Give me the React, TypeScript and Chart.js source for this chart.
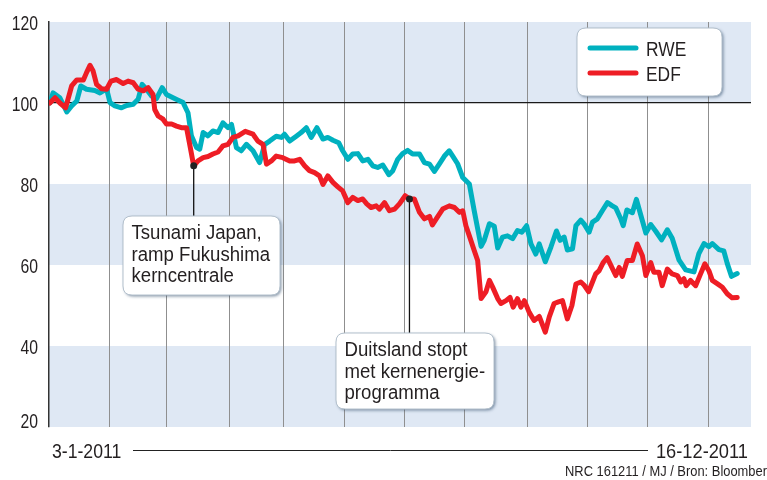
import { useEffect, useRef } from "react";
import { Chart, registerables } from "chart.js";

Chart.register(...registerables);

const FONT = "'Liberation Sans', Arial, Helvetica, sans-serif";
const TEXT = "#231f20";
const RWE_COLOR = "#00b1bf";
const EDF_COLOR = "#ee1d25";
const BAND = "#dfe8f4";

const seriesNames = ["RWE", "EDF"];

// x = trading day since 3-1-2011
const rweDay = [0.3, 1.4, 3.8, 6.2, 7.9, 9.7, 11.1, 13.1, 16, 17.8, 20.1, 21.3, 23, 25.3, 27.1, 29.4, 31.1, 32.5, 34, 35.8, 37.5, 39.5, 41, 43.3, 45.1, 46.8, 48.5, 49.7, 51.5, 52.6, 53.8, 55.5, 57.2, 59, 60.7, 62.5, 63.7, 65.4, 67.1, 68.9, 71.2, 73.5, 75.3, 77, 79.3, 81.1, 82.2, 84, 86.3, 88, 89.8, 91.5, 93.5, 95.6, 97.3, 99.1, 101.1, 102.5, 104.3, 106, 107.8, 109.5, 111.3, 113, 114.7, 116.5, 118.6, 120, 121.7, 123.4, 125.2, 126.9, 129.3, 131, 132.8, 134.5, 136.2, 138, 139.7, 140.9, 142.6, 144.4, 146.7, 148.4, 150.8, 151.9, 153.7, 155.4, 156.6, 158.3, 160, 161.8, 163.5, 165, 166.7, 168.2, 169.9, 171.1, 173.2, 175.2, 177.1, 178.4, 179.8, 180.9, 182.7, 183.9, 185.6, 186.8, 188.5, 189.7, 191.4, 193.1, 194.9, 196.6, 197.8, 199.5, 200.4, 201.7, 203.6, 205, 206.5, 208.3, 210, 211.7, 213.8, 215.8, 217.5, 219.9, 222.2, 225.1, 226.8, 228.6, 230.3, 231.5, 233.8, 235.5, 236.7, 238.2, 240.2];
const rweVal = [100, 102.5, 101.3, 97.8, 99.3, 100.5, 104.2, 103.4, 103.1, 102.5, 103.5, 100.1, 99.3, 98.8, 99.4, 99.7, 100.9, 104.6, 103.4, 101.7, 101.1, 103.8, 102.1, 101.3, 100.7, 100.1, 97.6, 91.9, 89, 88.6, 92.7, 91.9, 93.1, 92.7, 95.1, 93.9, 94.7, 89, 88.2, 89.8, 88.2, 85.3, 89.8, 90.6, 91.8, 91.5, 92.3, 90.6, 91.8, 92.7, 93.9, 91.5, 93.9, 91.1, 91.5, 90.8, 90.2, 88.2, 86.1, 87.4, 87.5, 85.7, 86.1, 84.5, 84.1, 84.7, 82.3, 83.3, 86.1, 87.5, 88.3, 87.4, 87.4, 85.3, 84.9, 83.1, 84.9, 86.9, 88.2, 86.9, 85, 81.6, 80, 73.4, 64.6, 66.1, 70.2, 69.6, 64.2, 66.9, 67.2, 66.5, 68.5, 68.1, 69.7, 65.2, 62.7, 65.2, 60.8, 64.5, 68.4, 66.1, 66.9, 63.7, 64, 69.7, 71.1, 70.1, 68.1, 70.6, 71.4, 73.4, 75.4, 74.6, 74.1, 71.5, 69.7, 73.6, 72.9, 76.2, 72.4, 67.9, 70, 68.4, 66.2, 68.7, 66.6, 61.2, 58.8, 58.3, 62.8, 65.3, 64.5, 65.3, 63.8, 63.5, 60.4, 57.2, 57.9];

const edfDay = [0.3, 2.1, 3.8, 5.8, 7.9, 9.7, 12, 13.1, 14.3, 15.4, 16.6, 18.4, 20.1, 21.6, 23.6, 25.9, 27.6, 29.4, 31.1, 32.9, 34.6, 36.3, 36.9, 38.1, 39.8, 41, 42.8, 44.5, 46.2, 48, 49.1, 50.5, 52, 53.8, 55.5, 57.2, 59, 60.7, 62.5, 64.2, 66, 68.5, 71.2, 72.9, 74.7, 75.9, 77.6, 79.3, 81.6, 84, 85.7, 87.5, 89.2, 90.9, 92.7, 94.4, 95.6, 97.3, 99.1, 100.8, 102.5, 104.3, 106, 107.8, 109.5, 110.9, 112.4, 114.2, 115.3, 117.1, 118.8, 120.6, 122.3, 124.3, 125.8, 127.5, 129.3, 131, 132.8, 133.8, 135.6, 137.4, 139.7, 141.5, 143.2, 144.4, 145.5, 146.7, 148.4, 149.6, 150.8, 152.5, 153.7, 154.8, 156.6, 157.7, 159.5, 160.9, 162, 163.5, 164.7, 165.9, 167.6, 169.3, 171.1, 173.2, 174.6, 176.3, 177.8, 179.2, 180.9, 182.5, 183.9, 185.6, 186.8, 188.3, 189.4, 190.8, 192, 193.4, 194.8, 196.1, 197.8, 199, 200.1, 201.8, 203.6, 205.3, 207.1, 208.3, 210, 211.1, 212.9, 214, 215.8, 217.5, 219.3, 220.5, 221.6, 222.4, 223.9, 225.7, 227.4, 228.9, 230.3, 231.5, 233.2, 235, 236.7, 238.4, 240.2];
const edfVal = [100, 101.3, 100, 98.8, 104.2, 105.7, 105.7, 107.5, 109.3, 107.9, 104.6, 103.5, 103.4, 105.4, 105.8, 104.8, 105.4, 105, 103.4, 103, 103.8, 102.1, 98.4, 96.8, 96, 94.8, 94.8, 94.3, 93.9, 93.9, 89.8, 84.5, 85.7, 86.5, 86.8, 87.4, 87.9, 89.4, 89.8, 91.5, 91.9, 93, 92.3, 90.6, 89.8, 84.9, 85.7, 86.9, 86.5, 85.7, 85.7, 86.1, 84.5, 83.3, 82.8, 82, 79.9, 82, 80.4, 79.3, 78.3, 75.4, 76.7, 75.9, 76.3, 75.1, 74.2, 74.6, 73.8, 75.4, 73.4, 73.8, 75.1, 77.1, 76.3, 76.3, 73, 71.4, 72, 69.9, 71.9, 73.8, 74.6, 74.2, 73, 73.4, 69.7, 67.2, 63.6, 61.1, 51.7, 53.4, 56.2, 54.6, 51.7, 50.5, 51.2, 52, 49.6, 51.7, 49.6, 51.2, 48.3, 46.3, 47.3, 43.4, 47.2, 50.5, 50.9, 51.2, 46.7, 50, 55.3, 55.8, 55, 53.4, 55.3, 57.8, 58.6, 60.6, 61.8, 59.9, 57.4, 59.4, 57.2, 61.1, 61.1, 65.2, 62.3, 57.4, 60.6, 58.2, 58.2, 54.9, 59, 57.8, 57.4, 55.8, 56.6, 54.9, 56.2, 54.9, 57.8, 60.3, 58.6, 56.2, 55.4, 54.5, 52.9, 51.9, 52];

// first trading day of each month (Feb..Dec)
const monthStartDays = [21, 41, 63, 82, 103, 124, 145, 167, 188, 209, 230];
const yTicks = [20, 40, 60, 80, 100, 120];
const startLabel = "3-1-2011";
const endLabel = "16-12-2011";
const sourceText = "NRC 161211 / MJ / Bron: Bloomberg";

const eventDays = [50.5, 125.8];
const eventTexts = [
  ["Tsunami Japan,", "ramp Fukushima", "kerncentrale"],
  ["Duitsland stopt", "met kernenergie-", "programma"],
];
const eventBoxes = [
  { x: 123, y: 216, w: 157, h: 79 },
  { x: 336, y: 333, w: 158, h: 76 },
];

function roundRect(ctx: CanvasRenderingContext2D, x: number, y: number, w: number, h: number, r: number) {
  ctx.beginPath();
  ctx.moveTo(x + r, y);
  ctx.lineTo(x + w - r, y);
  ctx.quadraticCurveTo(x + w, y, x + w, y + r);
  ctx.lineTo(x + w, y + h - r);
  ctx.quadraticCurveTo(x + w, y + h, x + w - r, y + h);
  ctx.lineTo(x + r, y + h);
  ctx.quadraticCurveTo(x, y + h, x, y + h - r);
  ctx.lineTo(x, y + r);
  ctx.quadraticCurveTo(x, y, x + r, y);
  ctx.closePath();
}

function drawBox(ctx: CanvasRenderingContext2D, x: number, y: number, w: number, h: number) {
  ctx.save();
  ctx.shadowColor = "rgba(40,70,100,0.55)";
  ctx.shadowBlur = 3;
  ctx.shadowOffsetX = 1.5;
  ctx.shadowOffsetY = 1.5;
  roundRect(ctx, x, y, w, h, 9);
  ctx.fillStyle = "#ffffff";
  ctx.fill();
  ctx.restore();
  ctx.save();
  roundRect(ctx, x, y, w, h, 9);
  ctx.strokeStyle = "#b3c0cc";
  ctx.lineWidth = 1;
  ctx.stroke();
  ctx.restore();
}

// condensed text: regular font squeezed horizontally
function sText(
  ctx: CanvasRenderingContext2D,
  text: string,
  x: number,
  y: number,
  size: number,
  sx: number,
  align: CanvasTextAlign = "left"
) {
  ctx.save();
  ctx.font = `${size}px ${FONT}`;
  ctx.fillStyle = TEXT;
  ctx.textAlign = align;
  ctx.textBaseline = "alphabetic";
  ctx.translate(x, y);
  ctx.scale(sx, 1);
  ctx.fillText(text, 0, 0);
  ctx.restore();
}

const decorPlugin = {
  id: "decor",
  beforeDraw(chart: any) {
    const { ctx, chartArea, scales } = chart;
    const y = scales.y;
    ctx.save();
    ctx.fillStyle = BAND;
    const bands = [[100, 120], [60, 80], [20, 40]];
    for (const [a, b] of bands) {
      const t = y.getPixelForValue(b);
      const bt = y.getPixelForValue(a);
      ctx.fillRect(chartArea.left, t, chartArea.right - chartArea.left, bt - t);
    }
    ctx.restore();
  },
  afterDraw(chart: any) {
    const { ctx, scales, chartArea } = chart;
    const xs = scales.x;
    const ys = scales.y;
    ctx.save();

    // y tick labels
    yTicks.forEach((v) => {
      const py = ys.getPixelForValue(v);
      sText(ctx, String(v), chartArea.left - 11, Math.min(py + 8, 428), 21, 0.75, "right");
    });

    // events
    eventDays.forEach((d, k) => {
      const i = edfDay.indexOf(d);
      const px = xs.getPixelForValue(d);
      const py = ys.getPixelForValue(edfVal[i]);
      const box = eventBoxes[k];
      ctx.strokeStyle = "#111";
      ctx.lineWidth = 1.3;
      ctx.beginPath();
      ctx.moveTo(px, py);
      ctx.lineTo(px, box.y);
      ctx.stroke();
      drawBox(ctx, box.x, box.y, box.w, box.h);
      ctx.fillStyle = "#222";
      ctx.beginPath();
      ctx.arc(px, py, 3.5, 0, Math.PI * 2);
      ctx.fill();
      eventTexts[k].forEach((line, j) => {
        sText(ctx, line, box.x + 8.5, box.y + 23 + j * 21.5, 20, 0.93);
      });
    });

    // legend
    drawBox(ctx, 577, 28, 145, 68);
    const colors = [RWE_COLOR, EDF_COLOR];
    seriesNames.forEach((name, k) => {
      const ly = 48 + k * 25;
      ctx.strokeStyle = colors[k];
      ctx.lineWidth = 5;
      ctx.lineCap = "round";
      ctx.beginPath();
      ctx.moveTo(590, ly);
      ctx.lineTo(636, ly);
      ctx.stroke();
      sText(ctx, name, 646, ly + 7.5, 20, 0.87);
    });

    // bottom date labels
    sText(ctx, startLabel, 52, 458, 21, 0.84);
    sText(ctx, endLabel, 748, 458, 21, 0.87, "right");
    ctx.strokeStyle = "#222";
    ctx.lineWidth = 1;
    ctx.lineCap = "butt";
    ctx.beginPath();
    ctx.moveTo(133, 450.5);
    ctx.lineTo(648, 450.5);
    ctx.stroke();

    // source
    sText(ctx, sourceText, 565, 476, 14.5, 0.89);
    ctx.restore();
  },
};

export default function App() {
  const ref = useRef<HTMLCanvasElement>(null);
  useEffect(() => {
    document.body.style.margin = "0";
    const canvas = ref.current;
    if (!canvas) return;
    const chart = new Chart(canvas, {
      type: "line",
      data: {
        datasets: [
          {
            label: seriesNames[0],
            data: rweDay.map((d, i) => ({ x: d, y: rweVal[i] })),
            borderColor: RWE_COLOR,
            borderWidth: 5,
            pointRadius: 0,
            tension: 0,
            borderJoinStyle: "round",
            borderCapStyle: "round",
            order: 1,
          },
          {
            label: seriesNames[1],
            data: edfDay.map((d, i) => ({ x: d, y: edfVal[i] })),
            borderColor: EDF_COLOR,
            borderWidth: 5,
            pointRadius: 0,
            tension: 0,
            borderJoinStyle: "round",
            borderCapStyle: "round",
            order: 0,
          },
        ],
      },
      options: {
        responsive: false,
        animation: false,
        devicePixelRatio: 1,
        layout: { padding: { top: 22, right: 16, bottom: 53, left: 0 } },
        plugins: { legend: { display: false }, tooltip: { enabled: false } },
        scales: {
          x: {
            type: "linear",
            min: 0,
            max: 245,
            border: { display: false },
            grid: { color: "#8f8f8f", lineWidth: 1, drawTicks: false },
            ticks: { display: false },
            afterBuildTicks: (scale: any) => {
              scale.ticks = monthStartDays.map((v) => ({ value: v }));
            },
            afterFit: (scale: any) => {
              scale.height = 0;
            },
          },
          y: {
            min: 20,
            max: 120,
            border: { display: true, color: "#333", width: 1.5 },
            grid: {
              color: (c: any) => (c.tick && c.tick.value === 100 ? "#1a1a1a" : "rgba(0,0,0,0)"),
              lineWidth: 1.3,
              drawTicks: false,
            },
            ticks: { display: false },
            afterBuildTicks: (scale: any) => {
              scale.ticks = yTicks.map((v) => ({ value: v }));
            },
            afterFit: (scale: any) => {
              scale.width = 49;
            },
          },
        },
      },
      plugins: [decorPlugin],
    } as any);
    return () => chart.destroy();
  }, []);
  return <canvas ref={ref} width={767} height={480} style={{ display: "block" }} />;
}
